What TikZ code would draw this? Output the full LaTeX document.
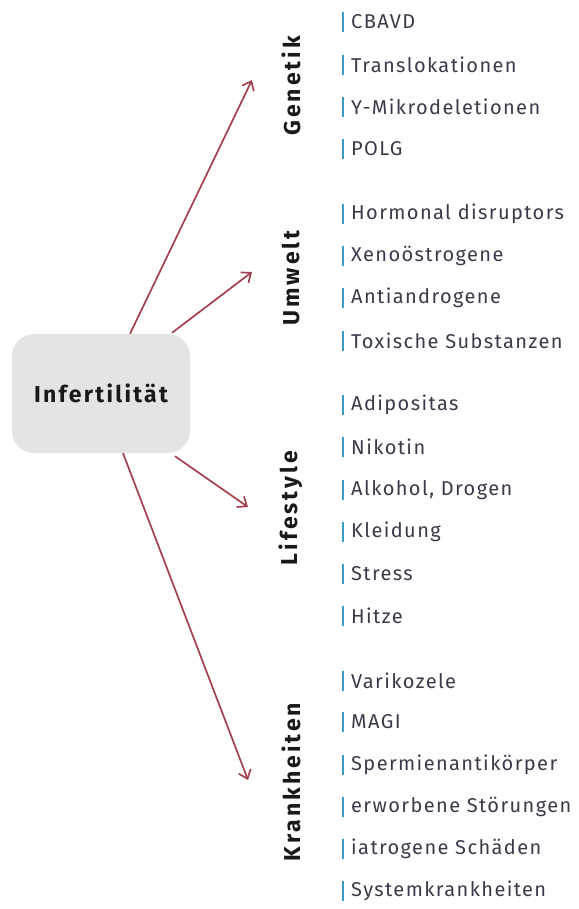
\documentclass[tikz,border=0pt]{standalone}
\usepackage{fontspec}
\setmainfont{Fira Sans}[LetterSpace=7]
\newfontfamily\catfont{Fira Sans}[LetterSpace=13]
\newfontfamily\inffont{Fira Sans}[LetterSpace=10]
\usetikzlibrary{arrows.meta}
\definecolor{arr}{HTML}{A3414E}
\definecolor{barc}{HTML}{3B9CC2}
\definecolor{itm}{HTML}{3A3A4A}
\definecolor{boxg}{HTML}{E4E4E4}
\begin{document}
\begin{tikzpicture}[x=1pt,y=-1pt,
  item/.style={anchor=west, inner sep=0pt, text=itm, font=\fontsize{20}{20}\selectfont},
  cat/.style={rotate=90, font=\catfont\bfseries\fontsize{23}{23}\selectfont, text=black!90, inner sep=0pt},
  conn/.style={arr, line width=1.7pt, -{Straight Barb[length=8pt,width=13pt]}},
  barline/.style={barc, line width=2.8pt}]
\useasboundingbox (0,0) rectangle (578,909);
\node[fill=boxg, rounded corners=22pt, minimum width=178pt, minimum height=119pt, inner sep=0pt,
  font=\inffont\bfseries\fontsize{23}{23}\selectfont, text=black!90] (inf) at (101,393.5) {Infertilität};

\node[cat] (gen) at (291,86) {Genetik};
\node[cat] (umw) at (291,278) {Umwelt};
\node[cat] (life) at (291,508) {Lifestyle};
\node[cat] (krank) at (291,782) {Krankheiten};

\coordinate (ga) at (252,80);
\coordinate (ua) at (252,272);
\coordinate (la) at (248,507);
\coordinate (ka) at (248,780);

\draw[conn] ([xshift=29pt]inf.north) -- (ga);
\draw[conn] ([xshift=71pt,yshift=1pt]inf.north) -- (ua);
\draw[conn] ([xshift=74pt,yshift=-3pt]inf.south) -- (la);
\draw[conn] ([xshift=22pt]inf.south) -- (ka);

\foreach \y/\t/\n in {22/CBAVD/i1, 65/Translokationen/i2, 107/Y-Mikrodeletionen/i3, 149/POLG/i4,
  214/Hormonal disruptors/i5, 256/Xenoöstrogene/i6, 298/Antiandrogene/i7, 341/Toxische Substanzen/i8,
  405/Adipositas/i9, 447/Nikotin/i10, 490/{Alkohol, Drogen}/i11, 532/Kleidung/i12, 574/Stress/i13, 616/Hitze/i14,
  681/Varikozele/i15, 722/MAGI/i16, 765/Spermienantikörper/i17, 807/erworbene Störungen/i18, 849/iatrogene Schäden/i19, 891/Systemkrankheiten/i20}{
  \node[item] (\n) at (351,\y) {\t};
  \draw[barline] ([xshift=-8pt,yshift=10pt]\n.west) -- ([xshift=-8pt,yshift=-10pt]\n.west);
}
\end{tikzpicture}
\end{document}
